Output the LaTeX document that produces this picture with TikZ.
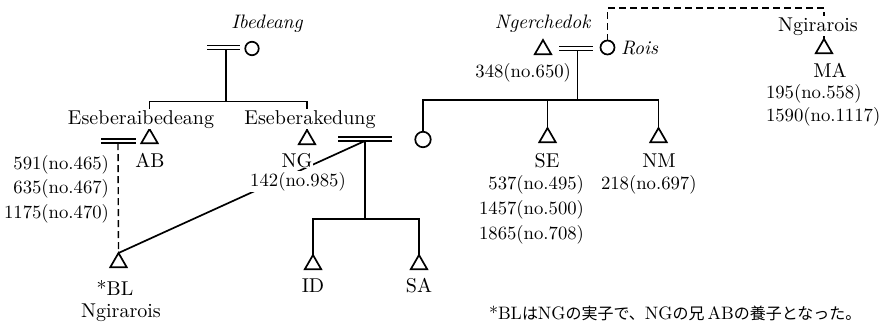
\documentclass[tikz,border=0pt]{standalone}
\usepackage{fontspec}
\setmainfont{lmroman10-regular.otf}[ItalicFont=lmroman10-italic.otf]
\newfontfamily\cjk{Noto Sans CJK JP}
\usetikzlibrary{shapes.geometric}
\begin{document}
\begin{tikzpicture}[x=1pt,y=-1pt,
  every node/.style={inner sep=0pt, outer sep=0pt},
  ln/.style={line width=1.7pt},
  tri/.style={draw, line width=1.7pt, regular polygon, regular polygon sides=3, minimum size=19pt, inner sep=0pt},
  fem/.style={draw, line width=1.7pt, circle, minimum size=14pt},
  nm/.style={font=\fontsize{20}{24}\selectfont, fill=white, inner sep=1pt},
  itl/.style={font=\fontsize{19.5}{24}\selectfont\itshape, fill=white, inner sep=1pt},
  num/.style={font=\fontsize{18.7}{22}\selectfont, fill=white, inner sep=1pt},
  marr/.style={line width=1.4pt, double, double distance=2.6pt},
  dsh/.style={line width=1.4pt, dash pattern=on 7pt off 4pt}
]
\useasboundingbox (0,0) rectangle (886,330);

% ---- people (symbols)
\node[fem, minimum size=13.5pt] (ibe) at (252,48.5) {};
\node[tri] (ab) at (149.5,138.5) {};
\node[tri] (ng) at (307,139.5) {};
\node[tri] (bl) at (118.5,262.5) {};
\node[tri] (id) at (313,264.5) {};
\node[tri] (sa) at (419,264.5) {};
\node[tri] (ngd) at (543,49.5) {};
\node[fem] (rois) at (607.5,47.5) {};
\node[fem, minimum size=15.5pt] (dau) at (423,139.5) {};
\node[tri] (se) at (547.5,137.5) {};
\node[tri] (nmt) at (658.5,137.5) {};
\node[tri] (ma) at (824,48.5) {};

% ---- marriage bars and junctions
\coordinate (m1l) at (207,47.75);  \coordinate (m1r) at (240,47.75);  \coordinate (d1) at (226,49.8);
\coordinate (m4l) at (101,141);    \coordinate (m4r) at (136,141);    \coordinate (d4) at (118,143.1);
\coordinate (m2l) at (338,138.8);  \coordinate (m2r) at (392,138.8);  \coordinate (d2) at (365,140.9);
\coordinate (m3l) at (559,48.7);   \coordinate (m3r) at (593,48.7);   \coordinate (d3) at (577.5,50.8);
\coordinate (sib1) at (226,101.5);
\coordinate (sib2) at (365,219);
\coordinate (sib3) at (577.5,100);
\coordinate (dtop) at (824,8);

\draw[ln] (d1) -- (sib1);
\draw[ln] (ab.north) |- (sib1) -| (ng.north);
\draw[ln] (d2) -- (sib2);
\draw[ln] (id.north) |- (sib2) -| (sa.north);
\draw[ln] (d3) -- (sib3);
\draw[ln] (dau.north) |- (sib3) -| (nmt.north);
\draw[ln] (se.north) -- (se.north |- sib3);
\draw[ln] (bl.north) -- (d2);
\draw[dsh] (d4) -- (bl.north);
\draw[dsh] (rois.north) |- (dtop) -- (ma.north);

\draw[marr] (m1l) -- (m1r);
\draw[marr] (m4l) -- (m4r);
\draw[marr] (m2l) -- (m2r);
\draw[marr] (m3l) -- (m3r);

% ---- labels
\node[itl, anchor=base] (ibeL) at (267,28) {Ibedeang};
\node[nm, anchor=base] (esb) at (141,124) {Eseberaibedeang};
\node[nm, anchor=base] (esk) at (310,124) {Eseberakedung};
\node[nm, anchor=base] (abL) at (150,167) {AB};
\node[nm, anchor=base] (ngL) at (297,167) {NG};
\node[num, anchor=base] (ngN) at (298,186) {142(no.985)};
\node[num, anchor=base east] (ab1) at (110,169) {591(no.465)};
\node[num, anchor=base east] (ab2) at (110,193) {635(no.467)};
\node[num, anchor=base east] (ab3) at (110,218) {1175(no.470)};
\node[nm, anchor=base] (blL) at (115,295) {*BL};
\node[nm, anchor=base] (blN) at (121,317) {Ngirarois};
\node[nm, anchor=base] (idL) at (313,292) {ID};
\node[nm, anchor=base] (saL) at (419,292) {SA};
\node[itl, anchor=base] (ngdL) at (542.5,28) {Ngerchedok};
\node[itl, anchor=base west] (roisL) at (620,54) {Rois};
\node[num, anchor=base east] (ngdN) at (572,77) {348(no.650)};
\node[nm, anchor=base] (seL) at (547,167) {SE};
\node[nm, anchor=base] (nmL) at (659,167) {NM};
\node[num, anchor=base east] (se1) at (585,189) {537(no.495)};
\node[num, anchor=base east] (se2) at (585,214) {1457(no.500)};
\node[num, anchor=base east] (se3) at (585,239) {1865(no.708)};
\node[num, anchor=base west] (nm1) at (600,189) {218(no.697)};
\node[nm, anchor=base] (maN) at (818,31) {Ngirarois};
\node[nm, anchor=base] (maL) at (830,77) {MA};
\node[num, anchor=base west] (ma1) at (765,98) {195(no.558)};
\node[num, anchor=base west] (ma2) at (765,121) {1590(no.1117)};
\node[anchor=base west, font=\fontsize{18}{20}\selectfont] (note) at (489,319)
  {*BL{\cjk\fontsize{16}{20}\selectfont は}NG{\cjk\fontsize{16}{20}\selectfont の実子で、}NG{\cjk\fontsize{16}{20}\selectfont の兄}\,AB{\cjk\fontsize{16}{20}\selectfont の養子となった。}};
\end{tikzpicture}
\end{document}
